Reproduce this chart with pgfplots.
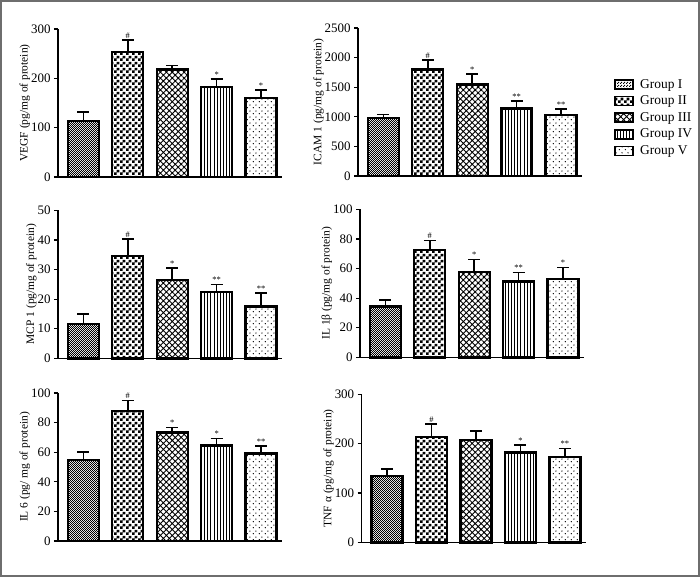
\documentclass[border=0pt]{standalone}
\usepackage{pgfplots}
\pgfplotsset{compat=1.18}
\usepackage{fontspec}
\setmainfont{Liberation Serif}
\usetikzlibrary{patterns,patterns.meta}

\pgfdeclarepatternformonly{fineck}{\pgfpointorigin}{\pgfpoint{2.4bp}{2.4bp}}{\pgfpoint{2.4bp}{2.4bp}}{%
  \pgfpathrectangle{\pgfpointorigin}{\pgfpoint{1.2bp}{1.2bp}}%
  \pgfpathrectangle{\pgfpoint{1.2bp}{1.2bp}}{\pgfpoint{1.2bp}{1.2bp}}%
  \pgfusepath{fill}}
\pgfdeclarepatternformonly{coarseck}{\pgfpointorigin}{\pgfpoint{6bp}{6bp}}{\pgfpoint{6bp}{6bp}}{%
  \pgfpathrectangle{\pgfpointorigin}{\pgfpoint{3bp}{3bp}}%
  \pgfpathrectangle{\pgfpoint{3bp}{3bp}}{\pgfpoint{3bp}{3bp}}%
  \pgfusepath{fill}}
\pgfdeclarepatternformonly{sparsedots}{\pgfpointorigin}{\pgfpoint{6bp}{6bp}}{\pgfpoint{6bp}{6bp}}{%
  \pgfpathcircle{\pgfpoint{1.5bp}{1.5bp}}{0.75bp}%
  \pgfpathcircle{\pgfpoint{4.5bp}{4.5bp}}{0.75bp}%
  \pgfusepath{fill}}

\pgfplotsset{
  common/.style={scale only axis, width=224bp, height=148bp,
    xmin=-0.57, xmax=4.47, ymin=0, anchor=south west, clip=false,
    axis x line*=bottom, axis y line*=left,
    axis line style={-, line width=1.3bp, black},
    xtick=\empty, tick align=outside, major tick length=4bp,
    ytick style={line width=1.2bp, black},
    tick label style={font=\fontsize{13}{14}\selectfont},
    /pgf/number format/assume math mode=true,
    /pgf/number format/1000 sep={},
    ylabel style={font=\fontsize{11.5}{13}\selectfont, yshift=-6bp}},
  mybar/.style={ybar, bar width=31bp, bar shift=0pt, draw=black, line width=2.4bp,
    error bars/y dir=plus, error bars/y explicit,
    error bars/error bar style={line width=1.6bp, black, solid},
    error bars/error mark options={rotate=90, mark size=6bp, line width=1.6bp, black},
    /pgfplots/legend image code/.code={\draw[##1, line width=1.6bp] (0bp,-4.5bp) rectangle (18bp,4.5bp); \path (22bp,0bp);}},
  gI/.style={mybar, pattern=fineck},
  gII/.style={mybar, pattern=coarseck},
  gIII/.style={mybar, pattern={Hatch[angle=45, distance=4.2bp, line width=0.9bp]}},
  gIV/.style={mybar, pattern={Lines[angle=90, distance=3.1bp, line width=0.8bp]}},
  gV/.style={mybar, pattern=sparsedots},
  sig/.style={draw=none, forget plot, nodes near coords, point meta=explicit symbolic,
    nodes near coords style={font=\fontsize{8.5}{9}\selectfont, anchor=south, inner sep=1.5bp}},
}

\begin{document}
\begin{tikzpicture}
\useasboundingbox (0,0) rectangle (700bp,-577bp);
\draw[line width=2bp, color={rgb,255:red,110;green,110;blue,110}] (1bp,-1bp) rectangle (698.5bp,-575.5bp);

% Panel 1: VEGF
\begin{axis}[common, at={(58bp,-177bp)}, ymax=300, ytick={0,100,200,300},
  ylabel={VEGF (pg/mg of protein)}]
\addplot[gI] coordinates {(0,114) +- (0,18)};
\addplot[gII] coordinates {(1,253) +- (0,25)};
\addplot[gIII] coordinates {(2,218) +- (0,8)};
\addplot[gIV] coordinates {(3,182) +- (0,17)};
\addplot[gV] coordinates {(4,160) +- (0,16)};
\addplot[sig] coordinates {(1,278) [\#] (3,199) [*] (4,176) [*]};
\end{axis}

% Panel 2: ICAM 1
\begin{axis}[common, at={(358bp,-176bp)}, ymax=2500, ytick={0,500,1000,1500,2000,2500},
  ylabel={ICAM 1 (pg/mg of protein)},
  legend style={draw=none, fill=none, at={(1.143,0.668)}, anchor=north west,
    font=\fontsize{13.5}{15}\selectfont, legend cell align=left, row sep=2.2bp,
    inner sep=0bp}]
\addplot[gI] coordinates {(0,975) +- (0,65)};
\addlegendentry{Group I}
\addplot[gII] coordinates {(1,1800) +- (0,155)};
\addlegendentry{Group II}
\addplot[gIII] coordinates {(2,1545) +- (0,175)};
\addlegendentry{Group III}
\addplot[gIV] coordinates {(3,1140) +- (0,130)};
\addlegendentry{Group IV}
\addplot[gV] coordinates {(4,1030) +- (0,105)};
\addlegendentry{Group V}
\addplot[sig] coordinates {(1,1955) [\#] (2,1720) [*] (3,1270) [**] (4,1135) [**]};
\end{axis}

% Panel 3: MCP 1
\begin{axis}[common, at={(58bp,-358.3bp)}, ymax=50, ytick={0,10,20,30,40,50},
  ylabel={MCP 1 (pg/mg of protein)}]
\addplot[gI] coordinates {(0,11.6) +- (0,3.4)};
\addplot[gII] coordinates {(1,34.5) +- (0,5.9)};
\addplot[gIII] coordinates {(2,26.4) +- (0,4.2)};
\addplot[gIV] coordinates {(3,22.4) +- (0,2.6)};
\addplot[gV] coordinates {(4,17.5) +- (0,4.6)};
\addplot[sig] coordinates {(1,40.4) [\#] (2,30.6) [*] (3,25.0) [**] (4,22.1) [**]};
\end{axis}

% Panel 4: IL 1beta
\begin{axis}[common, at={(360bp,-357.3bp)}, ymax=100, ytick={0,20,40,60,80,100},
  ylabel={IL 1β (pg/mg of protein)}]
\addplot[gI] coordinates {(0,34.2) +- (0,4.5)};
\addplot[gII] coordinates {(1,72.5) +- (0,6.5)};
\addplot[gIII] coordinates {(2,57.6) +- (0,8.6)};
\addplot[gIV] coordinates {(3,51.1) +- (0,6.3)};
\addplot[gV] coordinates {(4,53.1) +- (0,7.7)};
\addplot[sig] coordinates {(1,79) [\#] (2,66.2) [*] (3,57.4) [**] (4,60.8) [*]};
\end{axis}

% Panel 5: IL 6
\begin{axis}[common, at={(58bp,-541bp)}, ymax=100, ytick={0,20,40,60,80,100},
  ylabel={IL 6 (pg/ mg of protein)}]
\addplot[gI] coordinates {(0,54.8) +- (0,5.4)};
\addplot[gII] coordinates {(1,87.8) +- (0,7.2)};
\addplot[gIII] coordinates {(2,73.3) +- (0,3.4)};
\addplot[gIV] coordinates {(3,64.4) +- (0,4.8)};
\addplot[gV] coordinates {(4,59.1) +- (0,5.2)};
\addplot[sig] coordinates {(1,95) [\#] (2,76.7) [*] (3,69.2) [*] (4,64.3) [**]};
\end{axis}

% Panel 6: TNF alpha
\begin{axis}[common, at={(361.7bp,-542.3bp)}, ymax=300, ytick={0,100,200,300},
  ylabel={TNF α (pg/mg of protein)}]
\addplot[gI] coordinates {(0,134.7) +- (0,13.6)};
\addplot[gII] coordinates {(1,213.4) +- (0,26.4)};
\addplot[gIII] coordinates {(2,207.9) +- (0,18.1)};
\addplot[gIV] coordinates {(3,182) +- (0,15.6)};
\addplot[gV] coordinates {(4,173.3) +- (0,16.7)};
\addplot[sig] coordinates {(1,239.8) [\#] (3,197.6) [*] (4,190) [**]};
\end{axis}
\end{tikzpicture}
\end{document}
